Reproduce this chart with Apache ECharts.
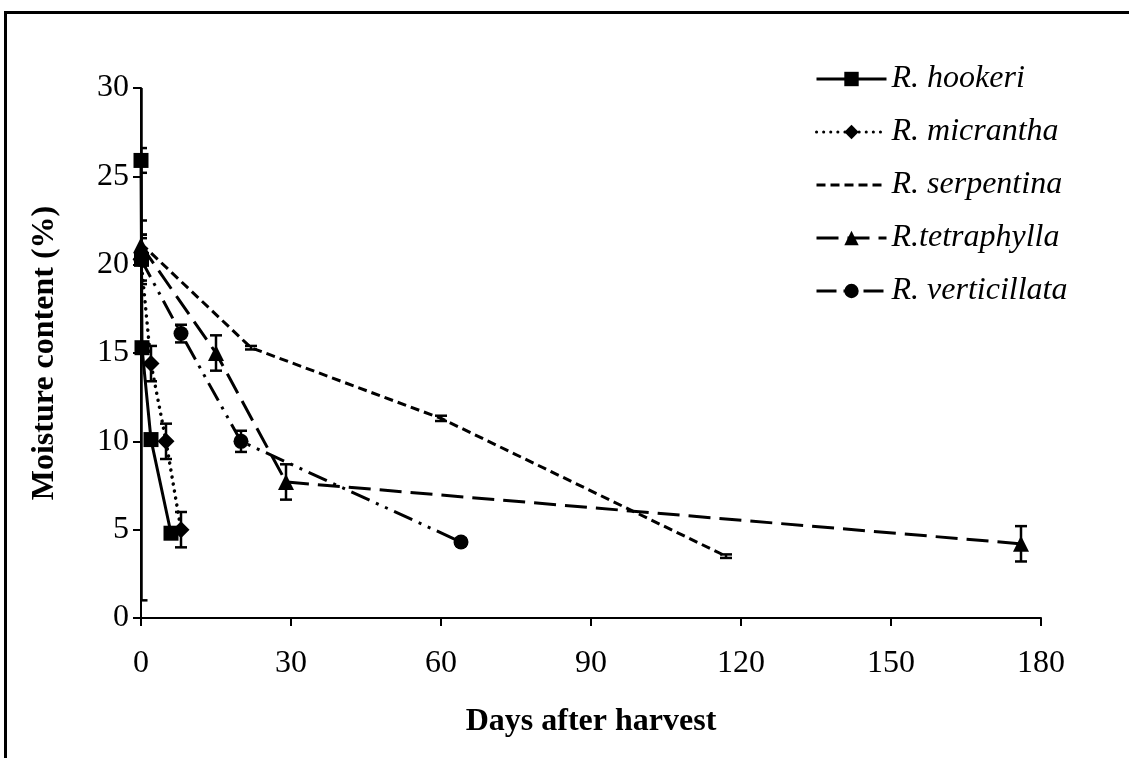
<!DOCTYPE html>
<html style="height: 100%">
<head>
    <meta charset="utf-8">
    <script src="https://cdn.jsdelivr.net/npm/echarts@6/dist/echarts.min.js"></script>
</head>
<body style="height: 100%; width: 100%; margin: 0; background-color: #fff;">

    <div id="container" style="width: 1129px; height: 758px;"></div>

    <script type="text/javascript">
        // days after harvest / moisture (%) / +- error, per species
        var hookeriDays = [0, 0.1, 0.2, 2, 6];
        var hookeriVal = [25.9, 20.3, 15.3, 10.1, 4.8];
        var hookeriErr = [0.7, 19.3, 0.2, 0.2, 0.2];

        var micranthaDays = [0, 2, 5, 8];
        var micranthaVal = [20.3, 14.4, 10.0, 5.0];
        var micranthaErr = [1.2, 1.0, 1.0, 1.0];

        var serpentinaDays = [0, 22, 60, 117];
        var serpentinaVal = [21.2, 15.3, 11.3, 3.5];
        var serpentinaErr = [1.3, 0.1, 0.15, 0.1];

        var tetraphyllaDays = [0, 15, 29, 176];
        var tetraphyllaVal = [21.1, 15.0, 7.7, 4.2];
        var tetraphyllaErr = [0.6, 1.0, 1.0, 1.0];

        var verticillataDays = [0, 8, 20, 64];
        var verticillataVal = [20.3, 16.1, 10.0, 4.3];
        var verticillataErr = [1.4, 0.5, 0.6, 0.2];

        var seriesNames = ['R. hookeri', 'R. micrantha', 'R. serpentina', 'R.tetraphylla', 'R. verticillata'];

        var font = "'Liberation Serif', 'Times New Roman', serif";

        function pairs(xs, ys) {
            var out = [];
            for (var i = 0; i < xs.length; i++) out.push([xs[i], ys[i]]);
            return out;
        }
        function errPairs(xs, ys, es) {
            var out = [];
            for (var i = 0; i < xs.length; i++) out.push([xs[i], ys[i] - es[i], ys[i] + es[i]]);
            return out;
        }

        var errData = []
            .concat(errPairs(hookeriDays, hookeriVal, hookeriErr))
            .concat(errPairs(micranthaDays, micranthaVal, micranthaErr))
            .concat(errPairs(serpentinaDays, serpentinaVal, serpentinaErr))
            .concat(errPairs(tetraphyllaDays, tetraphyllaVal, tetraphyllaErr))
            .concat(errPairs(verticillataDays, verticillataVal, verticillataErr));

        function renderErr(params, api) {
            var top = api.coord([api.value(0), api.value(2)]);
            var bot = api.coord([api.value(0), api.value(1)]);
            var w = 6;
            var st = { stroke: '#000', lineWidth: 2.5 };
            return {
                type: 'group',
                children: [
                    { type: 'line', shape: { x1: top[0], y1: top[1], x2: bot[0], y2: bot[1] }, style: st },
                    { type: 'line', shape: { x1: top[0] - w, y1: top[1], x2: top[0] + w, y2: top[1] }, style: st },
                    { type: 'line', shape: { x1: bot[0] - w, y1: bot[1], x2: bot[0] + w, y2: bot[1] }, style: st }
                ]
            };
        }

        var dom = document.getElementById("container");
        var myChart = echarts.init(dom);

        var option = {
            animation: false,
            color: ['#000'],
            graphic: [{
                type: 'rect',
                shape: { x: 5.5, y: 12.5, width: 1200, height: 800 },
                style: { fill: 'none', stroke: '#000', lineWidth: 3 },
                silent: true
            }],
            legend: {
                data: seriesNames,
                orient: 'vertical',
                left: 810,
                top: 58,
                itemWidth: 70,
                itemHeight: 18,
                itemGap: 21,
                selectedMode: false,
                lineStyle: { width: 3 },
                textStyle: {
                    fontFamily: font,
                    fontStyle: 'italic',
                    fontSize: 32,
                    lineHeight: 32,
                    color: '#000'
                }
            },
            grid: {
                left: 141,
                right: 88,
                top: 88,
                bottom: 140
            },
            xAxis: {
                type: 'value',
                min: 0,
                max: 180,
                interval: 30,
                name: 'Days after harvest',
                nameLocation: 'middle',
                nameGap: 88,
                nameTextStyle: { fontFamily: font, fontWeight: 'bold', fontSize: 32, color: '#000' },
                axisLine: { lineStyle: { color: '#000', width: 2 } },
                axisTick: { inside: false, length: 8, lineStyle: { color: '#000', width: 2 } },
                axisLabel: { fontFamily: font, fontSize: 32, color: '#000', margin: 30 },
                splitLine: { show: false }
            },
            yAxis: {
                type: 'value',
                min: 0,
                max: 30,
                interval: 5,
                name: 'Moisture content (%)',
                nameLocation: 'middle',
                nameGap: 80,
                nameTextStyle: { fontFamily: font, fontWeight: 'bold', fontSize: 32, color: '#000' },
                axisLine: { show: true, lineStyle: { color: '#000', width: 2 } },
                axisTick: { show: true, inside: false, length: 8, lineStyle: { color: '#000', width: 2 } },
                axisLabel: { fontFamily: font, fontSize: 32, color: '#000', margin: 12 },
                splitLine: { show: false }
            },
            series: [
                {
                    name: 'R. hookeri',
                    type: 'line',
                    data: pairs(hookeriDays, hookeriVal),
                    symbol: 'rect',
                    symbolSize: 15,
                    itemStyle: { color: '#000' },
                    lineStyle: { color: '#000', width: 3 }
                },
                {
                    name: 'R. micrantha',
                    type: 'line',
                    data: pairs(micranthaDays, micranthaVal),
                    symbol: 'diamond',
                    symbolSize: 17,
                    itemStyle: { color: '#000' },
                    lineStyle: { color: '#000', width: 3.5, type: [0.1, 7], cap: 'round' }
                },
                {
                    name: 'R. serpentina',
                    type: 'line',
                    data: pairs(serpentinaDays, serpentinaVal),
                    symbol: 'circle',
                    showSymbol: false,
                    itemStyle: { color: 'rgba(0,0,0,0)' },
                    lineStyle: { color: '#000', width: 3, type: [9, 5] }
                },
                {
                    name: 'R.tetraphylla',
                    type: 'line',
                    data: pairs(tetraphyllaDays, tetraphyllaVal),
                    symbol: 'triangle',
                    symbolSize: 16,
                    itemStyle: { color: '#000' },
                    lineStyle: { color: '#000', width: 3, type: [22, 9] }
                },
                {
                    name: 'R. verticillata',
                    type: 'line',
                    data: pairs(verticillataDays, verticillataVal),
                    symbol: 'circle',
                    symbolSize: 15,
                    itemStyle: { color: '#000' },
                    lineStyle: { color: '#000', width: 3, type: [20, 7, 3, 7, 3, 7] }
                },
                {
                    name: 'errors',
                    type: 'custom',
                    renderItem: renderErr,
                    data: errData,
                    encode: { x: 0, y: [1, 2] },
                    clip: true,
                    z: 5,
                    silent: true
                }
            ]
        };

        myChart.setOption(option, true);
    </script>
</body>
</html>
